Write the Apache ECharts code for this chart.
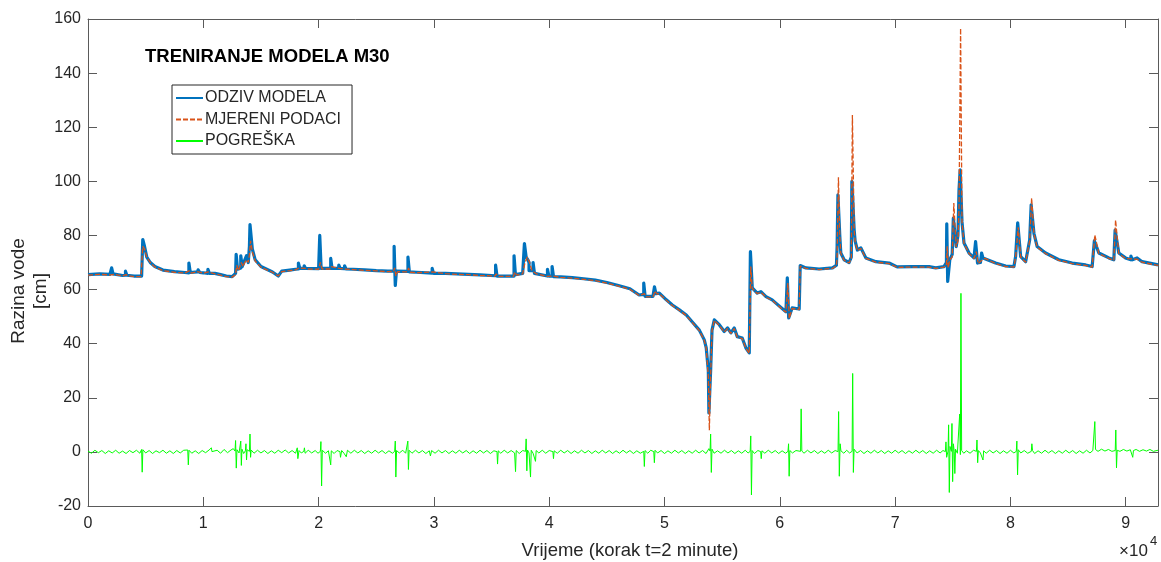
<!DOCTYPE html>
<html><head><meta charset="utf-8">
<script src="https://cdn.jsdelivr.net/npm/echarts@6/dist/echarts.min.js"></script>
<style>html,body{margin:0;padding:0;background:#fff}#c{width:1161px;height:562px}</style>
</head><body><div id="c"></div>
<script>
// ---- DATA ----
const seriesNames = ['ODZIV MODELA', 'MJERENI PODACI', 'POGREŠKA'];
const yTicks = [-20, 0, 20, 40, 60, 80, 100, 120, 140, 160];
const xTickLabels = ['0','1','2','3','4','5','6','7','8','9'];

// ODZIV MODELA  [time step, water level cm]
const odziv = [[0,65.5],[1000,65.8],[1900,65.6],[2050,65.7],[2050,68],[2170,68],[2170,65.8],[3000,65.2],[3250,65.3],[3250,66.8],[3370,66.8],[3370,65.3],[4000,65],[4650,65],[4750,78.5],[4900,76],[5100,72],[5400,70],[5800,68.5],[6500,67.2],[7500,66.6],[8400,66.3],[8750,66.2],[8750,69.8],[8870,69.8],[8870,66.3],[9500,66.5],[9550,67.3],[9650,67.3],[9700,66.3],[10000,66.2],[10400,66],[10400,67.5],[10520,67.5],[10520,66],[11000,66],[11500,65.5],[12000,65],[12500,64.8],[12800,66],[12850,66],[12850,73],[12970,73],[12970,67.5],[13250,68],[13250,72.5],[13370,72.5],[13370,68.5],[13600,71],[13750,72.5],[13900,70],[14000,76],[14050,84],[14150,84],[14250,75],[14500,71],[15000,68.5],[15500,67.5],[16000,66.5],[16500,65],[16800,66.8],[17500,67.2],[18000,67.5],[18250,67.6],[18250,69.8],[18370,69.8],[18370,67.8],[18750,67.8],[18750,68.8],[18870,68.8],[18870,67.8],[20000,67.7],[20100,67.7],[20100,80],[20220,80],[20220,67.8],[21050,67.8],[21050,71.5],[21170,71.5],[21170,67.8],[21750,67.8],[21750,69],[21870,69],[21870,67.8],[22250,67.7],[22250,68.8],[22370,68.8],[22370,67.6],[23000,67.5],[24000,67.3],[25000,67],[26000,66.8],[26550,66.9],[26550,76],[26650,76],[26650,61.5],[26750,61.5],[26750,66.8],[27750,66.7],[27750,72],[27870,72],[27870,66.5],[28500,66.4],[29850,66.1],[29850,67.8],[29970,67.8],[29970,66],[31000,66],[32000,65.8],[33000,65.6],[34000,65.4],[35350,65.1],[35350,69],[35470,69],[35470,65],[36950,65],[36950,72.5],[37070,72.5],[37070,65.5],[37700,66],[37850,66.5],[37850,77],[37970,77],[38000,72],[38150,71],[38250,70],[38250,67],[38600,67],[38600,70],[38720,70],[38720,66],[39850,65],[39850,67.5],[39970,67.5],[39970,65],[40250,65],[40250,68.5],[40370,68.5],[40370,64.8],[41000,64.7],[42000,64.4],[43000,64],[44000,63.5],[45000,62.6],[46000,61.5],[47000,60.3],[47800,58],[48200,58.2],[48200,62.4],[48320,62.4],[48320,57.5],[49000,57.5],[49130,57.8],[49130,61],[49250,61],[49250,58.5],[49550,58.7],[50160,56.2],[50680,54.3],[51290,52.5],[51890,50.6],[52410,48],[53020,45],[53450,41.4],[53620,38.4],[53800,30],[53850,14.4],[53930,14.4],[54000,30],[54120,45],[54320,48.8],[54750,47],[55180,44.5],[55470,45.8],[55760,44],[56050,45.8],[56310,42.6],[56740,42.1],[57060,38.4],[57350,36.6],[57450,36.8],[57450,74],[57560,74],[57610,60.6],[58040,58.7],[58360,59.2],[58800,57.4],[59340,56.2],[59660,55],[60530,51.8],[60650,52],[60650,64.3],[60770,64.3],[60770,49.5],[61070,53.2],[61680,52.8],[61770,68.9],[62260,68],[63410,67.6],[64570,68],[64910,69],[64970,76],[65040,95],[65130,95],[65200,80],[65290,73.5],[65580,71],[66010,70],[66200,72],[66250,100],[66340,100],[66450,82],[66530,78],[66730,74.6],[67030,75.4],[67460,71.7],[68330,70.3],[69480,69.8],[70170,68.4],[71470,68.5],[72940,68.5],[73520,68],[74240,68.5],[74450,70],[74480,84.3],[74560,84.3],[74560,63],[74640,63],[74740,71],[74950,73],[75050,86.4],[75130,86.4],[75300,75.9],[75450,80],[75541,96.8],[75640,104.2],[75720,104.2],[75800,85],[75975,77.2],[76410,73.5],[76840,71.7],[76950,72],[76980,77.7],[77100,77.7],[77150,69.8],[77400,70],[77500,70],[77500,73.5],[77620,73.5],[77620,71.7],[77790,71.7],[78720,69.8],[79590,68.7],[80306,68.5],[80450,72.2],[80630,84.7],[80720,84.7],[80890,72.2],[81320,70.3],[81670,78.3],[81800,91.3],[81880,91.3],[82040,80.8],[82320,75.9],[83050,73.5],[84200,71],[85360,69.8],[86520,69.1],[87090,68.5],[87280,78],[87360,78],[87670,73.5],[88540,71.7],[88970,71],[89080,82],[89160,82],[89400,73.5],[89980,71.7],[90450,71],[90450,72.4],[90570,72.4],[90570,71],[90987,71.7],[91420,70.3],[92806,69.1]];

// MJERENI PODACI  [time step, water level cm]
const mjereni = [[0,65.3],[1000,65.6],[2000,65.4],[2100,66],[2300,65.6],[3000,65],[3300,65.5],[3500,65.1],[4000,64.8],[4600,64.8],[4750,76],[4900,75],[5100,72],[5400,70],[5800,68.3],[6500,67],[7500,66.4],[8400,66.1],[8800,67],[8950,66.1],[9500,66.6],[10000,66],[10400,66.5],[11000,65.8],[11500,65.3],[12000,64.8],[12500,64.6],[12800,65.5],[12900,69],[13050,67],[13300,70],[13450,68.5],[13600,70],[13750,71],[13900,70],[14000,73],[14100,78],[14250,74],[14500,70.5],[15000,68.3],[15500,67.3],[16000,66.4],[16500,65],[16800,66.6],[17500,67],[18000,67.3],[18300,68],[18800,67.8],[19000,67.6],[20000,67.5],[20150,70],[20300,67.6],[21000,67.6],[21100,68.5],[21800,67.8],[22300,67.6],[23000,67.4],[24000,67.1],[25000,66.9],[26000,66.6],[26500,66.7],[26600,68],[26700,65],[26850,66.6],[27700,66.5],[27800,68],[27950,66.4],[28500,66.2],[29900,66.5],[31000,65.9],[32000,65.6],[33000,65.5],[34000,65.2],[35300,65],[35400,65.8],[35600,64.9],[36900,64.9],[37000,66.5],[37200,65.3],[37700,65.8],[37900,70],[38100,72],[38300,70],[38500,67],[38900,65.8],[39800,64.9],[40300,65],[41000,64.5],[42000,64.2],[43000,63.8],[44000,63.3],[45000,62.4],[46000,61.3],[47000,60.1],[47800,57.8],[48250,58.5],[48400,57.3],[49000,57.3],[49180,59.5],[49350,58.3],[49550,58.5],[50160,56],[50680,54.1],[51290,52.3],[51890,50.4],[52410,47.8],[53020,44.8],[53450,41.2],[53620,38.2],[53800,28],[53890,8],[54000,28],[54120,44.8],[54320,48.6],[54750,46.8],[55180,44.3],[55470,45.6],[55760,43.8],[56050,45.6],[56310,42.4],[56740,41.9],[57060,38.2],[57350,36.4],[57480,68.5],[57610,60.4],[58040,58.5],[58360,59],[58800,57.2],[59340,56],[59660,54.8],[60530,51.6],[60700,62.4],[60815,49.3],[61070,53],[61680,52.6],[61770,68.7],[62260,67.8],[63410,67.4],[64570,67.8],[64910,68.8],[64970,72],[65085,101.5],[65200,80],[65290,73.3],[65580,70.8],[66010,69.8],[66200,71.5],[66295,124.5],[66450,82],[66530,77.8],[66730,74.4],[67030,75.2],[67460,71.5],[68330,70.1],[69480,69.6],[70170,68.2],[71470,68.3],[72940,68.3],[73520,67.8],[74240,68.3],[74450,69],[74520,76],[74600,68],[74740,71],[74950,72],[75090,92],[75300,75.7],[75450,78],[75541,90],[75680,156.6],[75800,85],[75975,77],[76410,73.3],[76840,71.5],[77040,74],[77210,69.6],[77560,71],[77790,71.5],[78720,69.6],[79590,68.5],[80306,68.3],[80450,72],[80680,83],[80890,72],[81320,70.1],[81670,78],[81840,93.8],[82040,80.6],[82320,75.7],[83050,73.3],[84200,70.8],[85360,69.6],[86520,68.9],[87090,68.3],[87320,80.2],[87670,73.3],[88540,71.5],[88970,70.8],[89120,85.7],[89400,73.3],[89980,71.5],[90987,71.2],[91420,70.1],[92806,68.9]];

// POGREŠKA  [time step, error cm]
const pogreska = [[0,0.3],[300,-0.5],[600,0.6],[900,-0.3],[1200,0.5],[1500,-0.6],[1800,0.4],[2100,-0.4],[2400,0.6],[2700,-0.5],[3000,0.3],[3300,-0.6],[3600,0.5],[3900,-0.3],[4200,0.6],[4500,-0.5],[4650,0.9],[4700,-7.5],[4760,0.8],[5000,-0.4],[5300,0.5],[5600,-0.6],[5900,0.4],[6200,-0.3],[6500,0.6],[6800,-0.5],[7100,0.4],[7400,-0.6],[7700,0.5],[8000,-0.4],[8300,0.6],[8650,0.7],[8700,-4.8],[8760,0.6],[9000,-0.5],[9300,0.4],[9600,-0.6],[9900,0.5],[10200,-0.3],[10500,0.7],[10650,0.2],[10700,1.5],[10750,0.1],[10900,-0.4],[11200,0.6],[11500,-0.5],[11800,0.9],[12100,-0.3],[12400,0.7],[12600,1.2],[12750,0.3],[12800,4.2],[12860,-6],[12920,0.8],[13100,-0.4],[13200,0.3],[13250,4],[13300,-5],[13350,1],[13500,-0.6],[13650,0.4],[13700,3],[13750,-3],[13800,0.8],[14000,0.2],[14050,6.6],[14100,-2],[14150,0.7],[14400,-0.5],[14700,0.6],[15000,-0.4],[15300,0.5],[15600,-0.6],[15900,0.4],[16200,-0.5],[16500,0.6],[16800,-0.3],[17100,0.7],[17400,-0.4],[17700,0.5],[18000,-0.5],[18100,0.2],[18150,1.5],[18200,-2.5],[18300,0.5],[18500,-0.4],[18720,0.2],[18770,1.5],[18830,-0.5],[19100,0.6],[19400,-0.4],[19700,0.5],[19950,-0.5],[20150,0.2],[20200,3.8],[20260,-12.6],[20320,0.6],[20600,-0.5],[20850,0.4],[21000,0.5],[21050,-4.8],[21100,0.4],[21350,-0.6],[21600,0.5],[21850,0.1],[21900,-2],[22000,0.5],[22200,-0.5],[22350,0.2],[22400,-1.8],[22500,0.6],[22800,-0.5],[23100,0.6],[23400,-0.4],[23700,0.5],[24000,-0.6],[24300,0.4],[24600,-0.5],[24900,0.6],[25200,-0.4],[25500,0.5],[25800,-0.6],[26100,0.4],[26400,-0.5],[26600,0.2],[26650,4],[26700,-9.3],[26760,0.5],[27000,-0.4],[27300,0.6],[27550,-0.5],[27690,0.2],[27740,4],[27790,-6.5],[27850,0.6],[28100,-0.5],[28400,0.6],[28700,-0.4],[29000,0.5],[29300,-0.6],[29600,0.4],[29650,0.1],[29700,-1.5],[29800,0.5],[30100,-0.5],[30400,0.6],[30700,-0.4],[31000,0.5],[31300,-0.6],[31600,0.4],[31900,-0.5],[32200,0.6],[32500,-0.4],[32800,0.5],[33100,-0.6],[33400,0.4],[33700,-0.5],[34000,0.6],[34300,-0.4],[34600,0.5],[34900,-0.6],[35200,0.4],[35470,0.1],[35520,-4.5],[35580,0.4],[35800,-0.5],[36100,0.6],[36400,-0.4],[36700,0.5],[37000,-0.4],[37030,0.2],[37080,-7.3],[37140,0.5],[37400,-0.6],[37700,0.5],[37950,0.2],[38000,4.8],[38060,-7],[38120,0.7],[38250,-0.4],[38330,0.2],[38380,-9.3],[38440,0.6],[38600,-0.5],[38760,0.2],[38810,-3.5],[38870,0.5],[39100,-0.4],[39400,0.6],[39700,-0.5],[40000,0.5],[40320,0.1],[40370,-2.5],[40430,0.4],[40700,-0.5],[41000,0.6],[41300,-0.4],[41600,0.5],[41900,-0.6],[42200,0.4],[42500,-0.5],[42800,0.6],[43100,-0.4],[43400,0.5],[43700,-0.6],[44000,0.4],[44300,-0.5],[44600,0.6],[44900,-0.4],[45200,0.5],[45500,-0.6],[45800,0.4],[46100,-0.5],[46400,0.6],[46700,-0.4],[47000,0.5],[47300,-0.6],[47600,0.4],[47900,-0.5],[48200,0.2],[48250,-5.4],[48310,0.5],[48550,-0.5],[48800,0.6],[49070,0.1],[49120,-4],[49180,0.6],[49400,-0.4],[49700,0.5],[50000,-0.6],[50300,0.4],[50600,-0.5],[50900,0.6],[51200,-0.4],[51500,0.5],[51800,-0.6],[52100,0.4],[52400,-0.5],[52700,0.6],[53000,-0.4],[53300,0.5],[53600,-0.6],[53850,1.2],[53950,0.3],[54000,6.6],[54060,-7.6],[54120,1],[54300,-0.5],[54600,0.4],[54900,-0.5],[55200,0.6],[55500,-0.4],[55800,0.5],[56100,-0.6],[56400,0.4],[56700,-0.5],[57000,0.6],[57250,-0.4],[57430,0.2],[57480,5.9],[57540,-15.9],[57600,0.5],[57800,-0.6],[58100,0.5],[58340,0.1],[58390,-2.5],[58450,0.4],[58700,-0.5],[59000,0.6],[59300,-0.4],[59600,0.5],[59900,-0.6],[60200,0.4],[60500,-0.5],[60710,0.2],[60760,3],[60810,-9],[60870,0.5],[61100,-0.4],[61400,0.5],[61800,0.2],[61850,15.9],[61910,0.3],[62100,-0.5],[62400,0.6],[62700,-0.4],[63000,0.5],[63300,-0.6],[63600,0.4],[63900,-0.5],[64200,0.6],[64500,-0.4],[64800,0.5],[65050,0.1],[65100,14.9],[65160,-9],[65230,3],[65300,0.4],[65550,-0.5],[65800,0.6],[66050,-0.4],[66270,0.2],[66320,29],[66380,-7.6],[66440,1],[66700,-0.4],[67000,0.5],[67300,-0.6],[67600,0.4],[67900,-0.5],[68200,0.6],[68500,-0.4],[68800,0.5],[69100,-0.6],[69400,0.4],[69700,-0.5],[70000,0.6],[70300,-0.4],[70600,0.5],[70900,-0.6],[71200,0.4],[71500,-0.5],[71800,0.6],[72100,-0.4],[72400,0.5],[72700,-0.6],[73000,0.4],[73300,-0.5],[73600,0.6],[73900,-0.4],[74150,0.5],[74300,0.8],[74360,0.1],[74410,3.7],[74470,-2],[74590,0.3],[74640,10],[74700,-15],[74760,2],[74880,0.2],[74930,10.5],[74990,-11],[75050,3],[75130,0.2],[75180,-8],[75240,1],[75400,-0.5],[75550,0.2],[75600,14],[75660,-1],[75710,58.6],[75770,0.5],[75950,-0.5],[76200,0.4],[76500,-0.5],[76800,0.6],[77050,0.2],[77100,4.4],[77160,-4],[77220,0.5],[77400,-0.4],[77570,0.2],[77620,-3],[77680,0.4],[77900,-0.5],[78200,0.6],[78500,-0.4],[78800,0.5],[79100,-0.6],[79400,0.4],[79700,-0.5],[80000,0.6],[80300,-0.4],[80510,0.2],[80560,4],[80620,-8.5],[80680,0.8],[80900,-0.4],[81200,0.5],[81500,-0.5],[81810,0.2],[81860,3],[81920,0.5],[82100,-0.6],[82400,0.4],[82700,-0.5],[83000,0.6],[83300,-0.4],[83600,0.5],[83900,-0.6],[84200,0.4],[84500,-0.5],[84800,0.6],[85100,-0.4],[85400,0.5],[85700,-0.6],[86000,0.4],[86300,-0.5],[86600,0.6],[86900,-0.4],[87150,0.5],[87270,0.3],[87320,11.2],[87380,0.9],[87600,0.2],[87900,1.0],[88200,0.3],[88500,0.9],[88800,0.2],[89090,0.5],[89140,8.1],[89200,-5.9],[89260,0.6],[89500,0.2],[89800,0.9],[90100,0.3],[90400,0.8],[90560,0.3],[90610,-2],[90670,0.5],[90900,0.9],[91200,0.2],[91500,0.8],[91800,0.3],[92100,0.9],[92400,0.2],[92800,0.6]];

// ---- CHART ----
const FONT = '"Liberation Sans", Arial, Helvetica, sans-serif';
const TXT = '#262626';
const AX = '#5a5a5a';
const chart = echarts.init(document.getElementById('c'), null, {renderer: 'canvas'});

const xBase = {
  type: 'value', min: 0, max: 92800, interval: 10000,
  axisLine: {show: true, onZero: false, lineStyle: {color: AX, width: 1}},
  axisTick: {show: true, inside: true, length: 9, lineStyle: {color: AX}},
  splitLine: {show: false}
};
const yBase = {
  type: 'value', min: yTicks[0], max: yTicks[yTicks.length - 1], interval: 20,
  axisLine: {show: true, onZero: false, lineStyle: {color: AX, width: 1}},
  axisTick: {show: true, inside: true, length: 9, lineStyle: {color: AX}},
  splitLine: {show: false}
};

chart.setOption({
  animation: false,
  backgroundColor: '#ffffff',
  grid: {left: 88, right: 1.8, top: 19, bottom: 56, containLabel: false},
  xAxis: [
    Object.assign({}, xBase, {position: 'bottom',
      axisLabel: {show: true, margin: 10, color: TXT, fontSize: 16, fontFamily: FONT,
        formatter: v => (v % 10000 === 0 ? xTickLabels[v / 10000] : '')}}),
    Object.assign({}, xBase, {position: 'top', axisLabel: {show: false}})
  ],
  yAxis: [
    Object.assign({}, yBase, {position: 'left',
      axisLabel: {show: true, margin: 7, color: TXT, fontSize: 16, fontFamily: FONT}}),
    Object.assign({}, yBase, {position: 'right', axisLabel: {show: false}})
  ],
  legend: {
    show: true, orient: 'vertical', left: 172, top: 85,
    data: seriesNames,
    backgroundColor: '#ffffff', borderColor: '#262626', borderWidth: 1, borderRadius: 0,
    padding: [4, 11, 4, 3], itemGap: 3.5, itemWidth: 27, itemHeight: 14,
    itemStyle: {opacity: 0},
    textStyle: {color: TXT, fontSize: 16, fontFamily: FONT, lineHeight: 18, padding: [0, 0, 0, -3]}
  },
  graphic: [
    {type: 'text', left: 145, top: 47, z: 100,
      style: {text: 'TRENIRANJE MODELA M30', fill: '#000', font: 'bold 18.5px ' + FONT}},
    {type: 'text', x: 19, y: 291, rotation: Math.PI / 2, z: 100,
      style: {text: 'Razina vode', fill: TXT, font: '19px ' + FONT, align: 'center', verticalAlign: 'middle'}},
    {type: 'text', x: 41, y: 291, rotation: Math.PI / 2, z: 100,
      style: {text: '[cm]', fill: TXT, font: '19px ' + FONT, align: 'center', verticalAlign: 'middle'}},
    {type: 'text', x: 630, y: 551, z: 100,
      style: {text: 'Vrijeme (korak t=2 minute)', fill: TXT, font: '18.5px ' + FONT, align: 'center', verticalAlign: 'middle'}},
    {type: 'text', x: 1119, y: 551, z: 100,
      style: {text: '×10', fill: TXT, font: '17px ' + FONT, align: 'left', verticalAlign: 'middle'}},
    {type: 'text', x: 1150, y: 541, z: 100,
      style: {text: '4', fill: TXT, font: '13px ' + FONT, align: 'left', verticalAlign: 'middle'}}
  ],
  series: [
    {name: seriesNames[0], type: 'line', data: odziv, xAxisIndex: 0, yAxisIndex: 0,
      symbol: 'none', showSymbol: false, sampling: 'none', z: 2,
      lineStyle: {color: '#0072BD', width: 3.2, join: 'round', cap: 'butt'}, itemStyle: {color: '#0072BD'}},
    {name: seriesNames[1], type: 'line', data: mjereni, xAxisIndex: 0, yAxisIndex: 0,
      symbol: 'none', showSymbol: false, sampling: 'none', z: 3,
      lineStyle: {color: '#D95319', width: 1.3, type: [5, 2]}, itemStyle: {color: '#D95319'}},
    {name: seriesNames[2], type: 'line', data: pogreska, xAxisIndex: 0, yAxisIndex: 0,
      symbol: 'none', showSymbol: false, sampling: 'none', z: 4,
      lineStyle: {color: '#00FF00', width: 1}, itemStyle: {color: '#00FF00'}}
  ]
});
</script></body></html>
